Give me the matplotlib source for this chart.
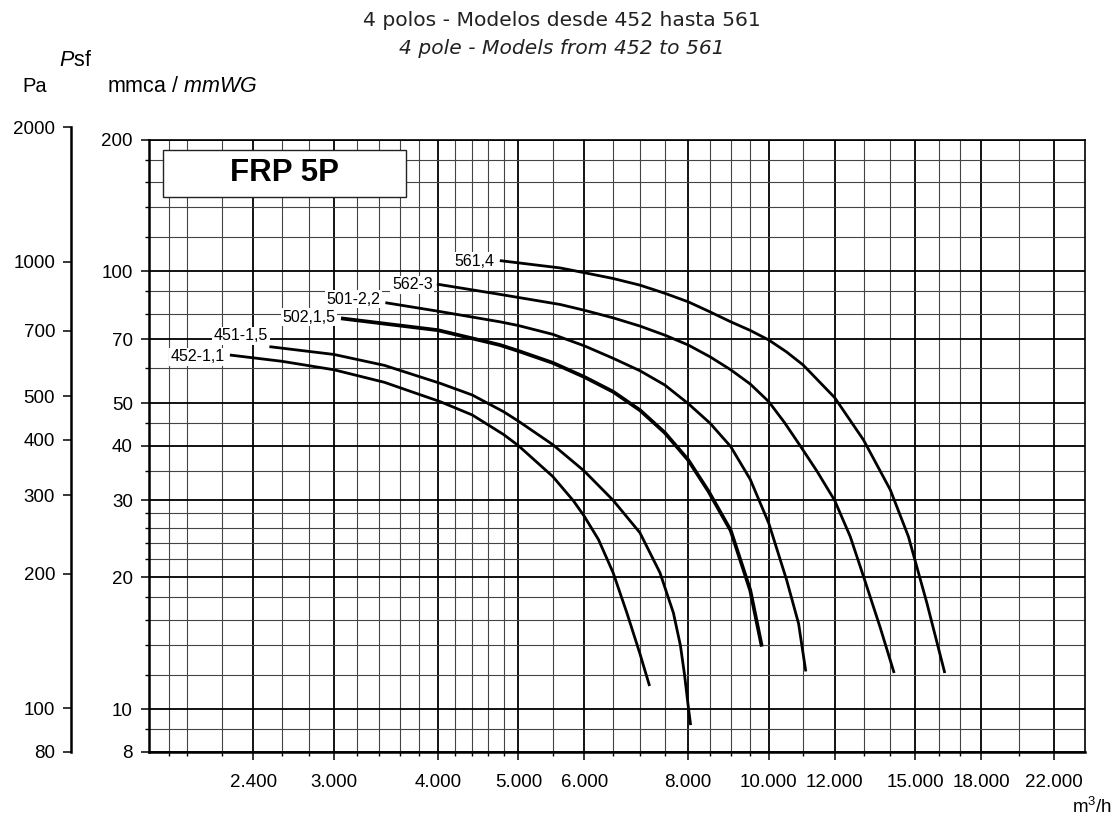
import matplotlib
matplotlib.use("Agg")
import matplotlib.pyplot as plt
from matplotlib.patches import Rectangle
from matplotlib.ticker import FixedLocator, FuncFormatter, NullFormatter, NullLocator

plt.rcParams["font.family"] = ["Liberation Sans", "DejaVu Sans"]
plt.rcParams["mathtext.fontset"] = "custom"
plt.rcParams["mathtext.rm"] = "Liberation Sans"
plt.rcParams["mathtext.it"] = "Liberation Sans:italic"
plt.rcParams["mathtext.bf"] = "Liberation Sans:bold"

# grid / tick values
x_major = [2400, 3000, 4000, 5000, 6000, 8000, 10000, 12000, 15000, 18000, 22000]
x_minor = [1900, 2000, 2200, 2600, 2800, 3200, 3400, 3600, 3800, 4200, 4400, 4600, 4800,
           5500, 6500, 7000, 7500, 8500, 9000, 9500, 11000, 13000, 14000, 16000, 17000, 20000]
y_major = [8, 10, 20, 30, 40, 50, 70, 100, 200]
y_minor = [9, 12, 14, 16, 18, 22, 24, 26, 28, 35, 45, 60, 80, 90, 120, 140, 160, 180]
pa_ticks = [80, 100, 200, 300, 400, 500, 700, 1000, 2000]

# fan curves: flow (m3/h) vs static pressure (mmca)
q_452 = [2250, 2600, 3000, 3450, 4027, 4400, 4800, 5000, 5500, 5825, 6000, 6242, 6500, 6752, 7000, 7190]
p_452 = [64.4, 62.3, 59.6, 55.8, 50.4, 47.0, 42.4, 40.0, 34.0, 29.9, 27.6, 24.4, 20.5, 16.6, 13.4, 11.3]

q_451 = [2510, 3000, 3450, 4027, 4400, 4800, 5000, 5500, 6000, 6500, 7000, 7400, 7680, 7830, 7920, 8000, 8055]
p_451 = [67.3, 64.6, 61.0, 55.5, 52.2, 47.8, 45.5, 40.2, 35.0, 30.0, 25.3, 20.5, 16.6, 14.0, 12.0, 10.2, 9.2]

q_502 = [3060, 4000, 4750, 5000, 5500, 6000, 6500, 7000, 7500, 8000, 8460, 9000, 9500, 9810]
p_502 = [78.1, 73.4, 67.9, 65.8, 61.8, 57.4, 53.1, 48.2, 42.8, 37.1, 31.5, 25.6, 18.7, 13.9]

q_501 = [3460, 4000, 4750, 5000, 5500, 6000, 6500, 7000, 7500, 8000, 8500, 9000, 9500, 10000,
         10510, 10860, 11080]
p_501 = [84.8, 81.1, 76.7, 75.2, 71.8, 67.6, 63.3, 59.3, 55.0, 49.9, 45.0, 39.8, 33.5, 26.6,
         19.7, 15.7, 12.2]

q_562 = [3990, 4750, 5614, 6000, 6500, 7000, 7500, 8000, 8500, 9000, 9500, 10000, 10450, 10906,
         11424, 12000, 12530, 13000, 13610, 14150]
p_562 = [93.5, 88.6, 84.0, 81.5, 78.3, 75.0, 71.5, 67.9, 63.8, 59.6, 55.3, 50.4, 45.1, 40.0,
         35.0, 30.0, 24.8, 20.1, 15.4, 12.1]

q_561 = [4750, 5614, 6000, 6500, 7000, 7500, 8000, 8500, 9000, 9500, 10000, 10500, 11000, 12000,
         13000, 14000, 14720, 15030, 15490, 16280]
p_561 = [105.8, 101.8, 99.3, 96.3, 93.0, 89.1, 85.2, 80.8, 76.7, 73.3, 69.7, 65.5, 61.1, 51.5,
         41.2, 31.7, 24.8, 21.5, 17.5, 12.1]

curve_names = ["452-1,1", "451-1,5", "502,1,5", "501-2,2", "562-3", "561,4"]
curve_q = [q_452, q_451, q_502, q_501, q_562, q_561]
curve_p = [p_452, p_451, p_502, p_501, p_562, p_561]

# layout: label offsets (points) and line widths
label_offsets = [(-3.6, -1.2), (-1.0, 7.7), (-4.0, 0.7), (-3.6, 2.4), (-2.9, -0.4), (-3.6, -0.5)]
line_widths = [2.0, 2.0, 2.7, 2.0, 2.0, 2.0]

W, H = 1120, 817


def fx(px):
    return px / W


def fy(py):
    return 1 - py / H


def dotted_thousands(v, _pos=None):
    return f"{v:,.0f}".replace(",", ".")


fig = plt.figure(figsize=(W / 100, H / 100), dpi=100)
ax = fig.add_axes([fx(149.3), fy(751.7), (1085 - 149.3) / W, (751.7 - 139.5) / H])
ax.set_xscale("log")
ax.set_yscale("log")
ax.set_xlim(1800, 24000)
ax.set_ylim(8, 200)

ax.xaxis.set_major_locator(FixedLocator(x_major))
ax.xaxis.set_minor_locator(FixedLocator(x_minor))
ax.yaxis.set_major_locator(FixedLocator(y_major))
ax.yaxis.set_minor_locator(FixedLocator(y_minor))
ax.xaxis.set_major_formatter(FuncFormatter(dotted_thousands))
ax.yaxis.set_major_formatter(FuncFormatter(dotted_thousands))
ax.xaxis.set_minor_formatter(NullFormatter())
ax.yaxis.set_minor_formatter(NullFormatter())

ax.set_axisbelow(True)
ax.grid(which="major", color="black", lw=1.3)
ax.grid(which="minor", color="#444444", lw=0.8)
ax.tick_params(which="major", direction="out", length=5.8, width=1.1,
               labelsize=13.5, color="black")
ax.tick_params(which="minor", direction="out", length=3.1, width=1.0)
ax.tick_params(axis="x", which="major", pad=10)
ax.tick_params(axis="y", which="major", pad=6)
for side in ["left", "bottom"]:
    ax.spines[side].set_linewidth(1.8)
for side in ["top", "right"]:
    ax.spines[side].set_linewidth(1.2)

for name, q, p, (dx, dy), lw in zip(curve_names, curve_q, curve_p, label_offsets, line_widths):
    ax.plot(q, p, color="black", lw=lw, solid_capstyle="butt", solid_joinstyle="round", zorder=3)
    ax.annotate(name, xy=(q[0], p[0]), xytext=(dx, dy), textcoords="offset points",
                ha="right", va="center", fontsize=11.5, zorder=4,
                bbox=dict(boxstyle="square,pad=0.1", fc="white", ec="none"))

# model box
box_x0, box_x1 = (163.2 - 149.3) / 935.7, (406 - 149.3) / 935.7
box_y0, box_y1 = (751.7 - 196.7) / 612.2, (751.7 - 150) / 612.2
ax.add_patch(Rectangle((box_x0, box_y0), box_x1 - box_x0, box_y1 - box_y0,
                       transform=ax.transAxes, fc="white", ec="#222222", lw=1.0, zorder=5))
ax.text((box_x0 + box_x1) / 2, (box_y0 + box_y1) / 2, "FRP 5P", transform=ax.transAxes,
        ha="center", va="center", fontsize=22.5, fontweight="bold", zorder=6)

# Pa scale on the far left
pa = fig.add_axes([fx(71.4), fy(751.7), 0.0001, (751.7 - 127.3) / H])
pa.set_yscale("log")
pa.set_ylim(80, 2000)
pa.patch.set_visible(False)
for side in ["top", "right", "bottom"]:
    pa.spines[side].set_visible(False)
pa.spines["left"].set_linewidth(1.8)
pa.xaxis.set_major_locator(NullLocator())
pa.xaxis.set_minor_locator(NullLocator())
pa.yaxis.set_major_locator(FixedLocator(pa_ticks))
pa.yaxis.set_minor_locator(NullLocator())
pa.yaxis.set_major_formatter(FuncFormatter(lambda v, _p: f"{v:.0f}"))
pa.tick_params(axis="y", which="major", direction="out", length=5.8, width=1.1,
               labelsize=13.5, pad=6)

# headings
fig.text(fx(59), fy(60), r"$\it{P}$sf", ha="left", va="center", fontsize=15.5)
fig.text(fx(22), fy(86), "Pa", ha="left", va="center", fontsize=14.5)
fig.text(fx(107), fy(86), r"mmca / $\it{mmWG}$", ha="left", va="center", fontsize=15.5)
fig.text(fx(1072), fy(813), r"m$^3$/h", ha="left", va="baseline", fontsize=13.5)
fig.text(fx(562), fy(20), "4 polos - Modelos desde 452 hasta 561", ha="center", va="center",
         fontsize=14.6, family="DejaVu Sans", color="#222222")
fig.text(fx(562), fy(48), "4 pole - Models from 452 to 561", ha="center", va="center",
         fontsize=14.6, family="DejaVu Sans", style="italic", color="#222222")

fig.savefig("out.png", dpi=100)
